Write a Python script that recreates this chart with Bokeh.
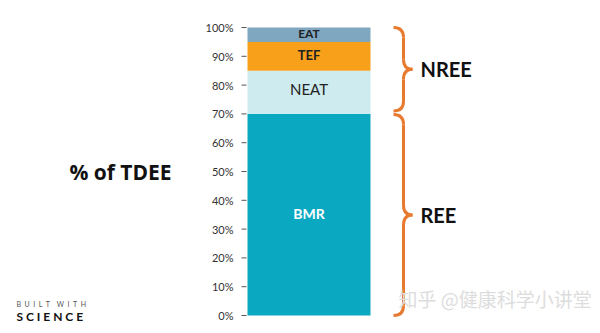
from bokeh.plotting import figure
from bokeh.models import Range1d, ColumnDataSource
from bokeh.core.properties import value
from bokeh.embed import file_html
from bokeh.resources import INLINE
import numpy as np

# ---- data ----
components = ["BMR", "NEAT", "TEF", "EAT"]
shares = [70, 15, 10, 5]
colors = ["#0BA9C1", "#CEEBF0", "#F9A01B", "#7FA7C0"]
label_colors = ["white", "#222222", "#222222", "#222222"]
label_sizes = ["14px", "15px", "13px", "12px"]
label_styles = ["bold", "normal", "bold", "bold"]
label_y = [35.5, 78.5, 90.3, 97.8]
groups = ["REE", "NREE"]
group_bounds = [(0, 69.8), (71, 100)]
tick_values = [0, 10, 20, 30, 40, 50, 60, 70, 80, 90, 100]
tick_labels = ["0%", "10%", "20%", "30%", "40%", "50%", "60%", "70%", "80%", "90%", "100%"]
y_title = "% of TDEE"

FONT = "Lato"
PX = 2.88  # pixels per percent
EN = "\u2002"

# frame covers the whole canvas; x in pixels, y in percent
p = figure(width=600, height=333, output_backend="svg", toolbar_location=None,
           x_range=Range1d(0, 600), y_range=Range1d(-18 / PX, 100 + 27 / PX),
           x_axis_location=None, y_axis_location=None, min_border=0)
p.outline_line_color = None
p.grid.visible = False
p.background_fill_color = "white"

# y axis (ticks + labels)
axis_x = 246
p.segment(x0=axis_x - 5, x1=axis_x, y0=tick_values, y1=tick_values,
          line_color="#555555", line_width=1)
p.text(x=axis_x - 13, y=tick_values, text=tick_labels, text_align="right",
       text_baseline="middle", text_font=value(FONT), text_font_size="11px",
       text_color="#333333")
p.text(x=[120], y=[50], text=[y_title], text_align="center", text_baseline="middle",
       text_font=value("Open Sans"), text_font_size="21px", text_font_style="bold",
       text_color="#111111")

# stacked bar
tops = np.cumsum(shares)
bottoms = tops - np.array(shares)
bar_l, bar_r = 247, 370
p.quad(left=bar_l, right=bar_r, bottom=bottoms, top=tops, fill_color=colors, line_color=None)
src = ColumnDataSource(dict(x=[(bar_l + bar_r) / 2] * len(components), y=label_y,
                            text=components, color=label_colors, size=label_sizes,
                            style=label_styles))
p.text(x="x", y="y", text="text", source=src, text_align="center", text_baseline="middle",
       text_font=value(FONT), text_font_size="size", text_color="color",
       text_font_style="style")

# braces
x0, x1, x2 = 393, 403, 412
r = 10 / PX
bc = "#E87A30"
for g, (yb, yt) in zip(groups, group_bounds):
    ym = (yb + yt) / 2
    p.quadratic(x0=[x0, x1, x2, x1], y0=[yt, ym + r, ym, yb + r],
                x1=[x1, x2, x1, x0], y1=[yt - r, ym, ym - r, yb],
                cx=[x1, x1, x1, x1], cy=[yt, ym, ym, yb],
                line_color=bc, line_width=3)
    p.segment(x0=[x1, x1], y0=[yt - r, ym - r], x1=[x1, x1], y1=[ym + r, yb + r],
              line_color=bc, line_width=3)
    p.text(x=[420], y=[ym], text=[g], text_align="left", text_baseline="middle",
           text_font=value(FONT), text_font_size="20px", text_font_style="bold",
           text_color="#111111")

# logo
p.text(x=[16], y=[(315 - 303) / PX], text=[EN.join("BUILT") + EN * 2 + EN.join("WITH")],
       text_align="left", text_baseline="middle", text_font=value(FONT),
       text_font_size="7px", text_color="#555555")
p.text(x=[16], y=[(315 - 316) / PX], text=["S C I E N C E"], text_align="left",
       text_baseline="middle", text_font=value(FONT), text_font_size="12px",
       text_font_style="bold", text_color="#111111")

# watermark
p.text(x=[398], y=[(315 - 298) / PX], text=["知乎 @健康科学小讲堂"], text_align="left",
       text_baseline="middle", text_font=value("Noto Sans CJK SC"), text_font_size="19px",
       text_color="#dddddd")

open("out.html", "w").write(file_html(p, INLINE))
